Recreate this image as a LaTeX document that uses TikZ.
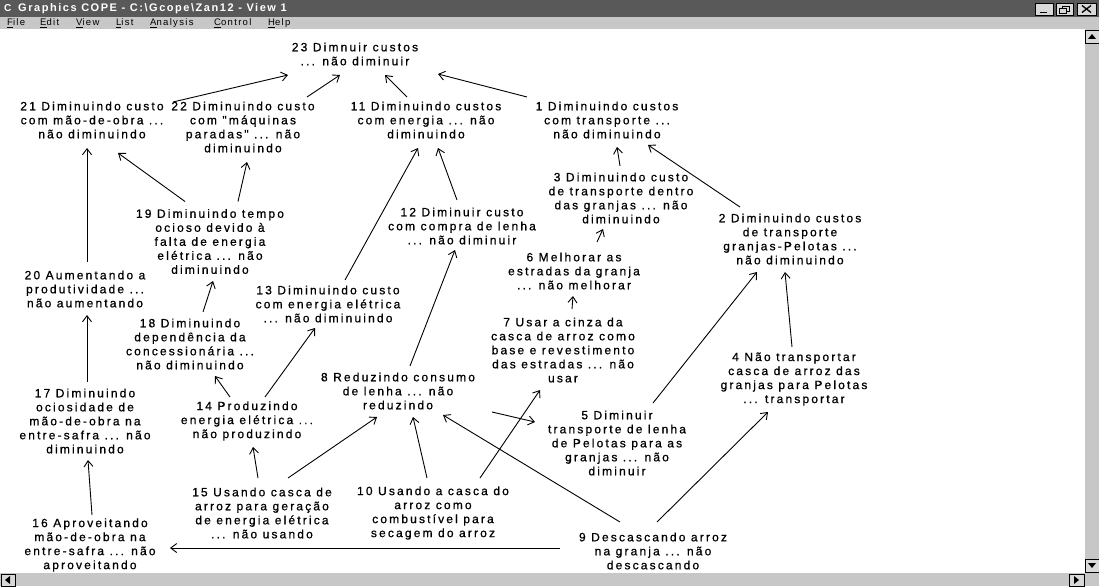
\documentclass[tikz,border=0pt]{standalone}
\usepackage{fontspec}
\setmainfont{Liberation Sans}
\newfontfamily\nodefont[LetterSpace=18,FakeBold=0.8]{Liberation Sans}
\newfontfamily\menufont[LetterSpace=14]{Liberation Sans}
\usetikzlibrary{arrows.meta,calc}
\begin{document}
\begin{tikzpicture}[x=1pt,y=-1pt,
  lbl/.style={font=\nodefont\fontsize{12}{14}\selectfont, align=center, inner sep=0pt},
  menu/.style={font=\menufont\fontsize{9.5}{10}\selectfont, anchor=west, inner sep=0pt},
  arr/.style={-{Straight Barb[length=6pt,width=9pt]}, line width=0.9pt},
  chrome/.style={fill=black!22},
  btn/.style={fill=black!15, draw=black, line width=0.6pt},
]
\useasboundingbox (0,0) rectangle (1099,586);
\fill[white] (0,0) rectangle (1099,586);
% title bar
\fill[black!65] (0,0) rectangle (1099,17);
\node[anchor=west, text=white, inner sep=0pt, font=\bfseries\fontsize{10}{10}\selectfont] (icon) at (4,8.5) {C};
\node[anchor=west, text=white, inner sep=0pt, font=\menufont\bfseries\fontsize{11}{12}\selectfont] (title) at (18,8.5) {Graphics COPE - C:\textbackslash Gcope\textbackslash Zan12 - View 1};
\draw[btn] (1035,3) rectangle (1053,15);
\draw[btn] (1056,3) rectangle (1073,15);
\draw[btn] (1077,3) rectangle (1096,15);
\draw[line width=1.4pt] (1040,12.5) -- (1047,12.5);
\draw[line width=0.8pt] (1062,6) rectangle (1069,11);
\draw[line width=0.8pt, fill=black!15] (1059,8) rectangle (1066,13);
\draw[line width=1.3pt] (1082,5.5) -- (1091,12.5) (1082,12.5) -- (1091,5.5);
% menu bar
\fill[chrome] (0,17) rectangle (1099,29);
\node[menu] (mfile) at (7,23) {\underline{F}ile};
\node[menu] (medit) at (40,23) {\underline{E}dit};
\node[menu] (mview) at (76,23) {\underline{V}iew};
\node[menu] (mlist) at (116,23) {\underline{L}ist};
\node[menu] (manal) at (150,23) {\underline{A}nalysis};
\node[menu] (mcont) at (214,23) {\underline{C}ontrol};
\node[menu] (mhelp) at (268,23) {\underline{H}elp};
% scrollbars
\fill[chrome] (1085,29) rectangle (1099,586);
\fill[chrome] (0,573) rectangle (1099,586);
\draw[btn] (1085,30) rectangle (1099,43);
\fill (1088,39) -- (1096,39) -- (1092,34) -- cycle;
\draw[btn] (1085,559) rectangle (1099,572);
\fill (1088,563) -- (1096,563) -- (1092,568) -- cycle;
\draw[btn] (1,574) rectangle (15,586);
\fill (10,576) -- (10,584) -- (5,580) -- cycle;
\draw[btn] (1069,574) rectangle (1084,586);
\fill (1074,576) -- (1074,584) -- (1079,580) -- cycle;

% nodes
\node[lbl] (n23) at (355,54) {23 Dimnuir custos\\... não diminuir};
\node[lbl] (n21) at (92,120) {21 Diminuindo custo\\com mão-de-obra ...\\não diminuindo};
\node[lbl] (n22) at (243,127) {22 Diminuindo custo\\com "máquinas\\paradas" ... não\\diminuindo};
\node[lbl] (n11) at (426,120) {11 Diminuindo custos\\com energia ... não\\diminuindo};
\node[lbl] (n1) at (607,120) {1 Diminuindo custos\\com transporte ...\\não diminuindo};
\node[lbl] (n19) at (210,241.5) {19 Diminuindo tempo\\ocioso devido à\\falta de energia\\elétrica ... não\\diminuindo};
\node[lbl] (n12) at (462,226) {12 Diminuir custo\\com compra de lenha\\... não diminuir};
\node[lbl] (n3) at (621,198) {3 Diminuindo custo\\de transporte dentro\\das granjas ... não\\diminuindo};
\node[lbl] (n2) at (790,239) {2 Diminuindo custos\\de transporte\\granjas-Pelotas ...\\não diminuindo};
\node[lbl] (n6) at (574,271) {6 Melhorar as\\estradas da granja\\... não melhorar};
\node[lbl] (n20) at (85,289) {20 Aumentando a\\produtividade ...\\não aumentando};
\node[lbl] (n13) at (328,304) {13 Diminuindo custo\\com energia elétrica\\... não diminuindo};
\node[lbl] (n18) at (190,344) {18 Diminuindo\\dependência da\\concessionária ...\\não diminuindo};
\node[lbl] (n7) at (563,350) {7 Usar a cinza da\\casca de arroz como\\base e revestimento\\das estradas ... não\\usar};
\node[lbl] (n4) at (794,379) {4 Não transportar\\casca de arroz das\\granjas para Pelotas\\... transportar};
\node[lbl] (n8) at (398,391) {8 Reduzindo consumo\\de lenha ... não\\reduzindo};
\node[lbl] (n17) at (85,421) {17 Diminuindo\\ociosidade de\\mão-de-obra na\\entre-safra ... não\\diminuindo};
\node[lbl] (n14) at (247,421) {14 Produzindo\\energia elétrica ...\\não produzindo};
\node[lbl] (n5) at (617,443) {5 Diminuir\\transporte de lenha\\de Pelotas para as\\granjas ... não\\diminuir};
\node[lbl] (n15) at (262,513) {15 Usando casca de\\arroz para geração\\de energia elétrica\\... não usando};
\node[lbl] (n10) at (433,513) {10 Usando a casca do\\arroz como\\combustível para\\secagem do arroz};
\node[lbl] (n9) at (653,551) {9 Descascando arroz\\na granja ... não\\descascando};
\node[lbl] (n16) at (90,545) {16 Aproveitando\\mão-de-obra na\\entre-safra ... não\\aproveitando};

% connectors
\draw[arr] ($(n21)+(81,-18)$) -- ($(n23)+(-67,21)$);
\draw[arr] ($(n22)+(64,-30)$) -- ($(n23)+(-15,21)$);
\draw[arr] ($(n11)+(-19,-23)$) -- ($(n23)+(30,21)$);
\draw[arr] ($(n1)+(-80,-23)$) -- ($(n23)+(83,20)$);
\draw[arr] ($(n20)+(2,-27)$) -- ($(n21)+(-5,28)$);
\draw[arr] ($(n19)+(-25,-40)$) -- ($(n21)+(26,33)$);
\draw[arr] ($(n19)+(28,-40)$) -- ($(n22)+(4,35)$);
\draw[arr] ($(n12)+(-5,-26)$) -- ($(n11)+(12,28)$);
\draw[arr] ($(n13)+(17,-24)$) -- ($(n11)+(-8,28)$);
\draw[arr] ($(n3)+(-1,-32)$) -- ($(n1)+(10,27)$);
\draw[arr] ($(n2)+(-50,-32)$) -- ($(n1)+(41,25)$);
\draw[arr] ($(n6)+(23,-29)$) -- ($(n3)+(-18,31)$);
\draw[arr] ($(n7)+(9,-41)$) -- ($(n6)+(-1,25)$);
\draw[arr] ($(n8)+(12,-25)$) -- ($(n12)+(-7,24)$);
\draw[arr] ($(n18)+(13,-32)$) -- ($(n19)+(3,39.5)$);
\draw[arr] ($(n14)+(-17,-24)$) -- ($(n18)+(25,32)$);
\draw[arr] ($(n14)+(18,-24)$) -- ($(n13)+(-13,24)$);
\draw[arr] ($(n17)+(2,-39)$) -- ($(n20)+(2,26)$);
\draw[arr] ($(n16)+(2,-30)$) -- ($(n17)+(3,39)$);
\draw[arr] ($(n15)+(-4,-35)$) -- ($(n14)+(6,26)$);
\draw[arr] ($(n15)+(26,-35)$) -- ($(n8)+(-21,26)$);
\draw[arr] ($(n10)+(-6,-35)$) -- ($(n8)+(15,26)$);
\draw[arr] ($(n10)+(47,-35)$) -- ($(n7)+(-23,40)$);
\draw[arr] ($(n9)+(-33,-29)$) -- ($(n8)+(45,24)$);
\draw[arr] ($(n9)+(-93,-3)$) -- ($(n16)+(80,3)$);
\draw[arr] ($(n9)+(4,-29)$) -- ($(n4)+(-26,33)$);
\draw[arr] ($(n5)+(36,-40)$) -- ($(n2)+(-33,33)$);
\draw[arr] ($(n4)+(-2,-32)$) -- ($(n2)+(-5,33)$);
\draw[arr] ($(n8)+(94,21)$) -- ($(n5)+(-82,-21)$);
\end{tikzpicture}
\end{document}
